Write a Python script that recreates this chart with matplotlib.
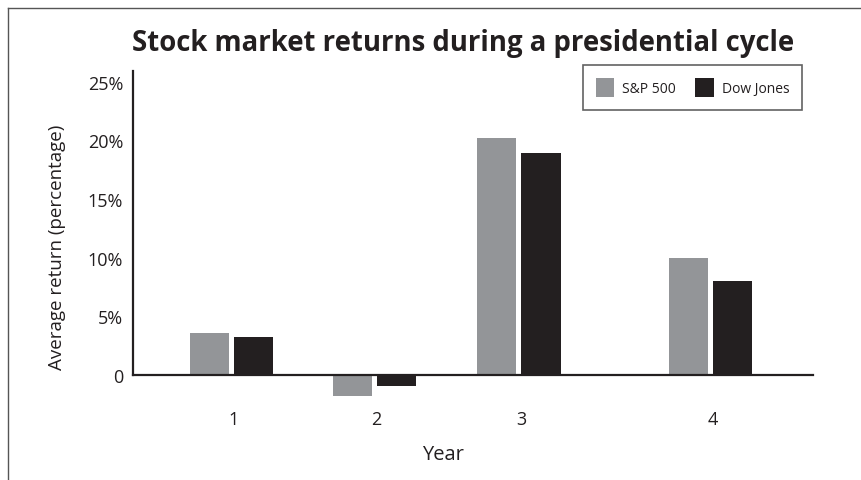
import matplotlib
matplotlib.use("Agg")
import matplotlib.pyplot as plt
from matplotlib.lines import Line2D
import numpy as np

plt.rcParams['font.family'] = ['Open Sans', 'DejaVu Sans']

years = ["1", "2", "3", "4"]
sp500 = [3.6, -1.8, 20.2, 10.0]
dow_jones = [3.25, -0.95, 18.95, 8.0]
series_names = ["S&P 500", "Dow Jones"]
ytick_values = [0, 5, 10, 15, 20, 25]
ytick_labels = ["0", "5%", "10%", "15%", "20%", "25%"]

# uneven group spacing as in the reference layout
group_pos = np.array([0.0, 1.0, 2.01, 3.35])
bar_w = 0.273
offset = 0.154

c_sp = "#939598"
c_dj = "#231f20"
txt = "#231f20"

fig = plt.figure(figsize=(8.61, 4.81), dpi=100)
W, H = 861, 481
ax = fig.add_axes([133 / W, 1 - 405.3 / H, (813 - 133) / W, (405.3 - 72) / H])

ax.bar(group_pos - offset, sp500, width=bar_w, color=c_sp, label=series_names[0], zorder=2)
ax.bar(group_pos + offset, dow_jones, width=bar_w, color=c_dj, label=series_names[1], zorder=2)

ax.set_xlim(-0.689, 4.066)
ax.set_ylim(-2.5, 25.9)

for s in ["top", "right"]:
    ax.spines[s].set_visible(False)
ax.spines['bottom'].set_position(('data', 0))
ax.spines['left'].set_bounds(0, 25.9)
for s in ["left", "bottom"]:
    ax.spines[s].set_linewidth(1.6)
    ax.spines[s].set_color(txt)
    ax.spines[s].set_zorder(3)

ax.set_yticks(ytick_values)
ax.set_yticklabels(ytick_labels)
ax.set_xticks(group_pos + 0.015)
ax.set_xticklabels(years)
ax.tick_params(axis='y', length=0, pad=7, labelsize=13, labelcolor=txt)
ax.tick_params(axis='x', length=0, pad=25, labelsize=13, labelcolor=txt)

ax.set_xlabel("Year", fontsize=14.5, color=txt, labelpad=12)
ax.xaxis.label.set_x((443 - 133) / 680)
ax.set_ylabel("Average return (percentage)", fontsize=13.5, color=txt, labelpad=16)
ax.yaxis.label.set_y((405.3 - 247.5) / 333.3)

fig.text(463 / W, 1 - 43.5 / H, "Stock market returns during a presidential cycle",
         ha='center', va='center', fontsize=19.8, fontweight='bold', color=txt)

leg = ax.legend(loc='upper right', ncol=2, fontsize=10, frameon=True, fancybox=False,
                bbox_to_anchor=(802 / W, 1 - 66 / H), bbox_transform=fig.transFigure,
                handlelength=1.3, handleheight=1.8, columnspacing=1.4, handletextpad=0.6,
                borderpad=0.9, borderaxespad=0)
leg.get_frame().set_edgecolor("#3a3a3a")
leg.get_frame().set_linewidth(1.2)
for t in leg.get_texts():
    t.set_color(txt)

# figure border (top and left edges visible)
fig.add_artist(Line2D([7.5 / W, 7.5 / W], [0, 1 - 9 / H], transform=fig.transFigure,
                      color="#555555", linewidth=1.0))
fig.add_artist(Line2D([7.5 / W, 1], [1 - 9 / H, 1 - 9 / H], transform=fig.transFigure,
                      color="#555555", linewidth=1.0))

fig.savefig("out.png", dpi=100)
